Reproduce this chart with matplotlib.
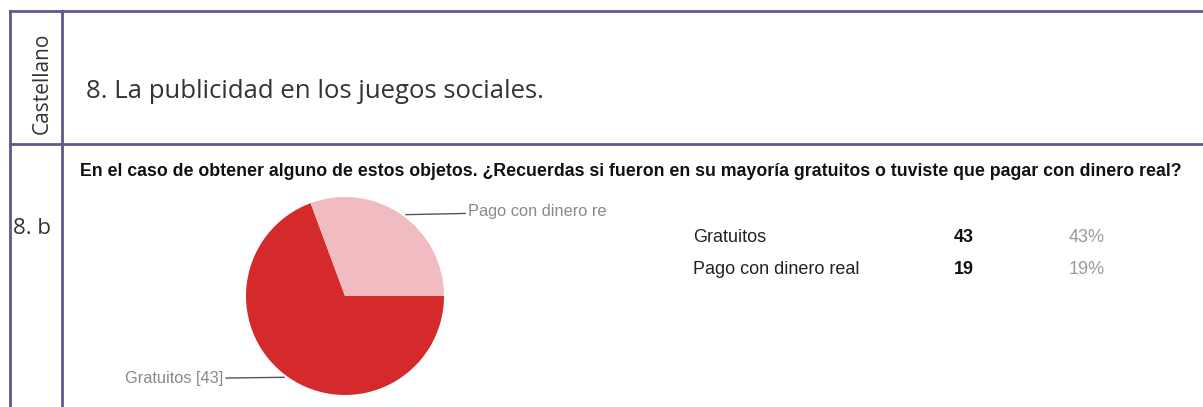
import numpy as np
import matplotlib.pyplot as plt

# data
categories = ['Gratuitos', 'Pago con dinero real']
counts = [43, 19]
percents = ['43%', '19%']
pie_labels = ['Gratuitos [43]', 'Pago con dinero re']
slice_colors = ['#d42a2c', '#f1bcc1']

section_title = '8. La publicidad en los juegos sociales.'
question = ('En el caso de obtener alguno de estos objetos. ¿Recuerdas si fueron en su '
            'mayoría gratuitos o tuviste que pagar con dinero real?')

W, H = 1203, 407
fig = plt.figure(figsize=(W / 100, H / 100), dpi=100)
fig.patch.set_facecolor('white')

# overlay axes in pixel coordinates for the table frame and text
bg = fig.add_axes([0, 0, 1, 1])
bg.set_xlim(0, W)
bg.set_ylim(H, 0)
bg.axis('off')

line_col = '#5b5a8e'
bg.plot([10, W], [11, 11], color=line_col, lw=2)
bg.plot([10, W], [144, 144], color=line_col, lw=2)
bg.plot([10, 10], [11, H], color=line_col, lw=2)
bg.plot([62, 62], [11, H], color=line_col, lw=2)

bg.text(42, 83, 'Castellano', rotation=90, ha='center', va='center',
        fontsize=15, family='Open Sans', color='#333333')
bg.text(86, 91, section_title, ha='left', va='center', fontsize=18.5,
        family='Open Sans', color='#333333')
bg.text(13, 228, '8. b', ha='left', va='center', fontsize=16,
        family='Open Sans', color='#333333')

bg.text(80, 172, question, ha='left', va='center', fontsize=12.8,
        family='Liberation Sans', weight='bold', color='#111111')

# summary table on the right
row_y = [238, 269]
for i, name in enumerate(categories):
    bg.text(693, row_y[i], name, ha='left', va='center', fontsize=13,
            family='Liberation Sans', color='#222222')
    bg.text(954, row_y[i], str(counts[i]), ha='left', va='center', fontsize=13,
            family='Liberation Sans', weight='bold', color='#111111')
    bg.text(1069, row_y[i], percents[i], ha='left', va='center', fontsize=13,
            family='Liberation Sans', color='#9a9a9a')

# pie chart
cx, cy, r = 345, 296, 99
ax = fig.add_axes([(cx - r) / W, (H - cy - r) / H, 2 * r / W, 2 * r / H])
wedges, _ = ax.pie(counts, colors=slice_colors, startangle=0, counterclock=False,
                   radius=1, wedgeprops=dict(linewidth=0))
ax.set_xlim(-1, 1)
ax.set_ylim(-1, 1)
ax.set_aspect('equal')
ax.axis('off')

# leader labels, offsets in points from the wedge mid-angle on the rim
offsets = [(-47, -1), (48, 2)]
for i, w in enumerate(wedges):
    ang = np.deg2rad((w.theta1 + w.theta2) / 2)
    x, y = np.cos(ang), np.sin(ang)
    dx, dy = offsets[i]
    ax.annotate(pie_labels[i], xy=(x, y), xytext=(dx, dy), textcoords='offset points',
                ha='right' if dx < 0 else 'left', va='center', fontsize=11.8,
                family='Liberation Sans', color='#8a8a8a',
                arrowprops=dict(arrowstyle='-', color='#555555', lw=1,
                                shrinkA=0, shrinkB=3))

fig.savefig('out.png', dpi=100)
